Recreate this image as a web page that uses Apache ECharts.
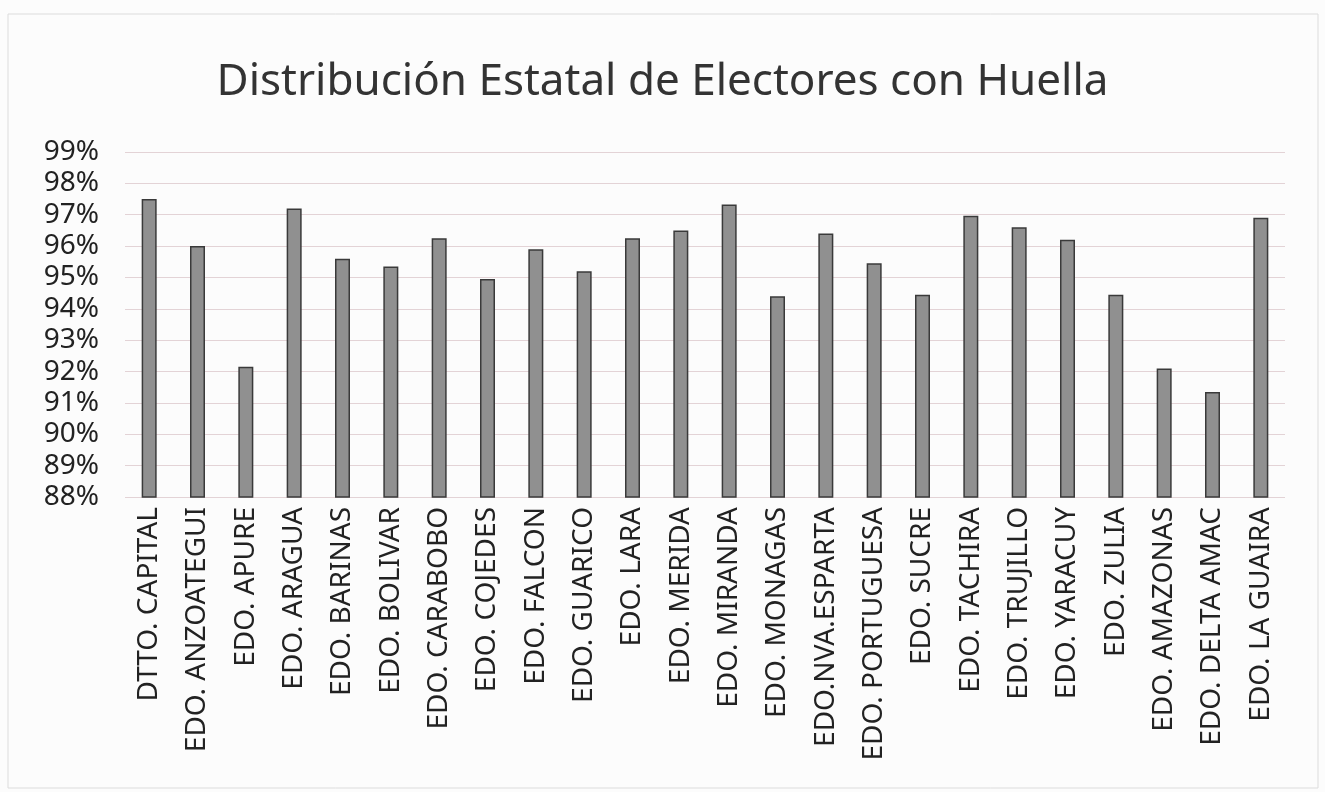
<!DOCTYPE html>
<html>
<head>
<meta charset="utf-8">
<script src="https://cdn.jsdelivr.net/npm/echarts@6/dist/echarts.min.js"></script>
<style>
html,body{margin:0;padding:0;background:#fcfcfc;}
#c{width:1325px;height:792px;}
</style>
</head>
<body>
<div id="c"></div>
<script>
const titleText = "Distribución Estatal de Electores con Huella";
const categories = [
  "DTTO. CAPITAL","EDO. ANZOATEGUI","EDO. APURE","EDO. ARAGUA","EDO. BARINAS",
  "EDO. BOLIVAR","EDO. CARABOBO","EDO. COJEDES","EDO. FALCON","EDO. GUARICO",
  "EDO. LARA","EDO. MERIDA","EDO. MIRANDA","EDO. MONAGAS","EDO.NVA.ESPARTA",
  "EDO. PORTUGUESA","EDO. SUCRE","EDO. TACHIRA","EDO. TRUJILLO","EDO. YARACUY",
  "EDO. ZULIA","EDO. AMAZONAS","EDO. DELTA AMAC","EDO. LA GUAIRA"
];
const values = [
  97.5, 96.0, 92.15, 97.2, 95.6,
  95.35, 96.25, 94.95, 95.9, 95.2,
  96.25, 96.5, 97.33, 94.4, 96.4,
  95.45, 94.45, 96.97, 96.6, 96.2,
  94.45, 92.1, 91.35, 96.9
];
const yMin = 88, yMax = 99, yStep = 1;

const chart = echarts.init(document.getElementById('c'));
chart.setOption({
  backgroundColor: '#fcfcfc',
  animation: false,
  title: {
    text: titleText,
    left: 'center',
    top: 55,
    textStyle: {fontFamily: 'Noto Sans', fontSize: 44, fontWeight: 'normal', color: '#333'}
  },
  graphic: [{
    type: 'rect',
    shape: {x: 8, y: 14, width: 1310, height: 774},
    style: {fill: 'none', stroke: '#dcdcdc', lineWidth: 1}
  }],
  grid: {left: 125, right: 40, top: 152, bottom: 295},
  xAxis: {
    type: 'category',
    data: categories,
    axisLine: {show: false},
    axisTick: {show: false},
    axisLabel: {
      rotate: 90, interval: 0, margin: 10,
      fontFamily: 'Noto Sans', fontSize: 28, color: '#222'
    }
  },
  yAxis: {
    type: 'value',
    min: yMin, max: yMax, interval: yStep,
    axisLine: {show: false},
    axisTick: {show: false},
    axisLabel: {
      margin: 26,
      formatter: v => v + '%',
      fontFamily: 'Noto Sans', fontSize: 28, color: '#222'
    },
    splitLine: {lineStyle: {color: '#e3d3d6', width: 1}}
  },
  series: [{
    type: 'bar',
    data: values,
    barWidth: 15,
    itemStyle: {color: '#909090', borderColor: '#3a3a3a', borderWidth: 1.5}
  }]
});
</script>
</body>
</html>
